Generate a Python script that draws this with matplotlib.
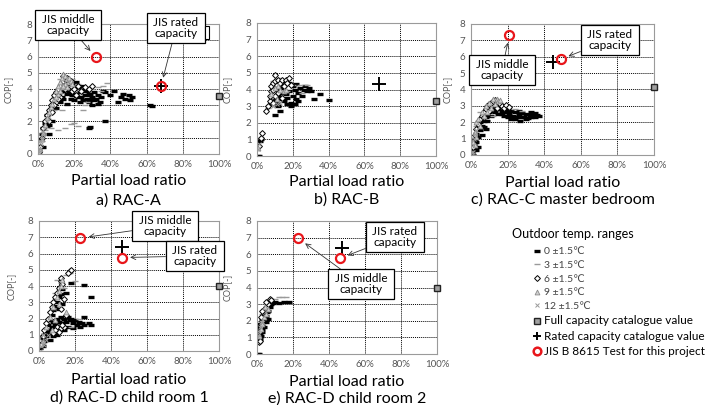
import matplotlib
matplotlib.use("Agg")
import matplotlib.pyplot as plt
from matplotlib.lines import Line2D
from matplotlib.patches import Rectangle

plt.rcParams['font.family'] = ['Lato', 'DejaVu Sans']

# ---- measured data (partial load ratio in %, COP) ----
# RAC-A
a_t0 = [(0.5, 0.2), (1, 0.5), (1.5, 0.9), (2, 1.2), (3, 1.6), (4, 1.9), (5, 1.7), (6, 1.8), (5, 2.4), (7, 2.6),
        (8, 2.9), (9, 3.1), (10, 3.3), (11, 3.6), (12, 3.8), (13, 3.5), (14, 3.9), (15, 4.1), (16, 3.7), (17, 4.2),
        (18, 3.9), (19, 4.3), (20, 4.0), (21, 3.7), (22, 4.1), (23, 3.8), (24, 3.5), (25, 3.9), (26, 3.6), (27, 3.4),
        (28, 3.7), (29, 3.3), (30, 3.5), (31, 3.8), (32, 3.4), (33, 3.6), (34, 3.2), (35, 3.5), (18, 3.4), (20, 3.3),
        (22, 3.5), (24, 4.2), (26, 4.0), (28, 3.2), (16, 3.1), (19, 3.6), (21, 4.4), (23, 3.2), (30, 3.0), (33, 3.1),
        (36, 3.9), (37, 3.8), (40, 3.6), (42, 3.9), (44, 3.2), (46, 3.5), (47, 3.7), (48, 3.4), (50, 3.6), (52, 3.5),
        (51, 3.3), (62, 3.0), (63, 2.95), (28, 1.6), (29, 1.65), (37, 2.05), (3, 0.4), (6, 1.2), (8, 2.0),
        (17, 3.8), (20, 3.6), (25, 3.3), (27, 3.9), (29, 3.6), (31, 3.3), (14, 3.4), (12, 3.2), (10, 2.8)]
a_t3 = [(2, 0.8), (4, 1.5), (9, 2.7), (13, 2.7), (15, 1.6), (18, 1.85), (20, 1.9), (22, 1.7), (25, 2.7), (17, 4.5),
        (19, 4.6), (22, 4.3), (30, 4.0), (33, 4.1), (36, 4.2), (38, 4.35), (35, 3.9), (27, 3.2), (12, 4.6), (14, 4.4),
        (11, 1.5), (7, 1.6), (26, 3.0)]
a_t6 = [(1, 0.4), (2, 1.0), (3, 1.6), (4, 2.0), (5, 2.4), (6, 2.7), (7, 3.0), (8, 3.3), (9, 3.6), (10, 3.8),
        (11, 4.0), (12, 4.2), (13, 4.4), (14, 4.5), (15, 4.6), (16, 4.3), (17, 4.1), (18, 4.2), (19, 3.9), (20, 4.0),
        (22, 4.2), (24, 3.9), (26, 4.1), (28, 4.0), (30, 4.2), (15, 4.0), (12, 3.5), (10, 3.2), (8, 2.6), (6, 2.0),
        (14, 4.8), (21, 3.6), (0.5, 0.1), (16, 4.7), (18, 4.5), (9, 3.0), (11, 3.4)]
a_t9 = [(1, 0.3), (2, 0.9), (3, 1.3), (5, 2.2), (7, 2.9), (9, 3.4), (10, 3.9), (11, 4.2), (12, 4.4), (13, 4.7),
        (14, 4.9), (15, 4.8), (16, 4.6), (17, 4.4), (13, 4.1), (15, 4.3), (17, 4.7), (18, 4.5), (11, 3.7), (8, 3.1),
        (4, 1.8), (6, 2.6), (12, 3.9), (14, 4.2), (16, 4.1), (10, 3.5), (19, 4.3)]
a_t12 = [(0.5, 0.1), (1, 0.3), (1.5, 0.6), (2, 0.9), (3, 1.2), (4, 1.6), (5, 2.0), (6, 2.3), (1, 0.8), (2, 1.4),
         (0.3, 0.0)]

# RAC-B
b_t0 = [(0.5, 0.0), (1.2, 0.0), (1.5, 0.9), (2, 1.0), (8, 3.1), (9, 3.3), (10, 3.5), (11, 3.2), (12, 3.6), (13, 3.4),
        (14, 3.8), (15, 3.3), (16, 3.7), (17, 3.5), (18, 3.9), (19, 3.2), (20, 3.6), (21, 4.0), (22, 3.4), (23, 3.8),
        (24, 4.1), (25, 3.6), (26, 4.0), (27, 4.2), (28, 3.9), (29, 4.1), (30, 3.9), (32, 3.45), (35, 3.7), (40, 3.35),
        (10, 2.45), (13, 2.7), (15, 4.3), (18, 4.4), (20, 4.2), (22, 4.35), (12, 3.0), (17, 3.1), (19, 3.0), (21, 3.1),
        (23, 3.3), (14, 4.1), (16, 4.5), (11, 4.0)]
b_t3 = [(9, 4.5), (11, 4.6), (13, 4.7), (6, 2.9), (8, 3.5), (20, 4.3), (24, 4.3), (17, 3.9), (25, 3.8), (28, 4.3)]
b_t6 = [(1, 0.6), (2, 1.1), (3, 1.4), (5, 2.7), (6, 3.0), (7, 3.3), (7, 3.6), (8, 3.9), (8, 4.2), (9, 4.0),
        (9, 4.4), (10, 4.9), (10, 4.5), (11, 4.3), (12, 4.6), (13, 4.4), (14, 4.6), (15, 4.2), (16, 4.55), (17, 4.4),
        (18, 4.7), (19, 4.3), (12, 3.8), (10, 3.6), (14, 3.5), (9, 3.2)]
b_t9 = [(8, 3.7), (10, 4.1), (12, 4.2), (13, 4.0), (15, 3.9), (11, 3.4), (16, 4.0), (0.5, 0.5)]
b_t12 = [(0.5, 0.4), (1, 0.7), (9, 3.0), (11, 3.1), (13, 3.2)]

# RAC-C master bedroom
c_t0 = [(0.5, 0.1), (1, 0.3), (1.5, 0.6), (2, 0.5), (2, 1.0), (3, 0.8), (3, 1.3), (4, 1.1), (4, 1.6), (5, 1.5),
        (5, 2.0), (6, 1.8), (7, 2.1), (8, 2.3), (9, 2.5), (10, 2.6), (11, 2.8), (12, 2.7), (13, 2.9), (14, 3.0),
        (15, 2.8), (16, 3.0), (17, 2.7), (18, 2.9), (19, 2.6), (20, 2.8), (21, 2.5), (22, 2.7), (23, 2.4), (24, 2.6),
        (25, 2.3), (26, 2.5), (27, 2.35), (28, 2.55), (29, 2.3), (30, 2.5), (31, 2.25), (32, 2.45), (33, 2.3),
        (34, 2.5), (35, 2.35), (36, 2.45), (37, 2.4), (20, 2.3), (22, 2.2), (24, 2.2), (27, 2.1), (2, 0.8), (6, 1.2),
        (4, 0.5), (1, 0.0), (3, 0.3), (8, 1.6), (18, 2.4), (30, 2.2), (7, 1.7), (9, 2.1), (11, 2.4), (13, 2.6),
        (15, 2.5), (17, 2.5), (26, 2.7), (33, 2.6), (35, 2.55)]
c_t3 = [(5, 2.6), (8, 2.9), (16, 3.2), (20, 3.0), (24, 2.8), (28, 2.7), (12, 2.4), (3, 1.8)]
c_t6 = [(1, 0.5), (2, 1.2), (3, 1.6), (4, 1.9), (5, 2.2), (6, 2.4), (7, 2.6), (8, 2.8), (9, 3.0), (10, 3.1),
        (11, 3.2), (12, 3.3), (13, 3.35), (14, 3.3), (15, 3.2), (16, 3.1), (17, 3.0), (18, 2.9), (14, 2.9), (10, 2.7),
        (7, 2.3), (19, 3.05), (21, 2.95)]
c_t9 = [(1, 0.8), (2, 1.4), (3, 2.0), (4, 2.2), (6, 2.6), (8, 3.0), (10, 3.2), (12, 3.4), (14, 3.45), (13, 3.1),
        (11, 2.9), (9, 2.6), (15, 3.3), (16, 3.35), (2, 0.6), (3, 1.1), (5, 1.8), (7, 2.4)]
c_t12 = [(0.5, 0.2), (1, 0.6), (1.5, 1.0), (2, 1.3), (3, 1.5), (0.5, 0.0), (1, 0.2)]

# RAC-D child room 1
d_t0 = [(0.5, 0.2), (1, 0.5), (2, 0.8), (2, 0.3), (3, 1.0), (3, 0.6), (4, 1.3), (4, 0.9), (5, 1.6), (5, 1.1),
        (6, 1.9), (6, 1.3), (7, 2.2), (7, 1.5), (8, 2.5), (8, 1.8), (9, 2.8), (9, 1.6), (10, 3.0), (10, 2.0),
        (11, 3.3), (11, 1.8), (12, 3.5), (12, 2.1), (13, 3.8), (13, 1.7), (14, 2.0), (15, 1.8), (16, 2.1), (17, 1.9),
        (18, 2.0), (19, 1.7), (20, 1.9), (21, 1.6), (22, 1.8), (23, 1.5), (24, 1.7), (25, 2.1), (25, 1.6), (28, 1.7),
        (29, 1.6), (25, 4.05), (29, 3.3), (18, 4.2), (15, 3.6), (14, 1.3), (16, 1.5), (19, 1.4), (6, 0.7), (9, 1.2),
        (11, 2.6), (13, 2.9), (10, 1.0), (8, 0.9)]
d_t3 = [(10, 4.4), (12, 4.2), (15, 4.7), (17, 4.8), (14, 3.9), (20, 4.3), (9, 3.6), (22, 2.0), (18, 1.5), (6, 2.4)]
d_t6 = [(1, 0.4), (2, 0.9), (3, 1.3), (4, 1.7), (5, 2.0), (6, 2.4), (7, 2.7), (8, 3.0), (9, 3.3), (10, 3.6),
        (11, 3.9), (12, 4.3), (12, 4.5), (13, 4.1), (17, 4.9), (18, 5.0), (16, 4.8), (10, 1.5), (12, 1.4), (14, 1.5),
        (11, 1.2), (9, 1.3), (13, 1.6), (15, 2.2), (8, 1.1), (12, 2.6), (14, 3.2)]
d_t9 = [(2, 0.6), (4, 1.5), (6, 2.1), (8, 2.7), (10, 3.3), (11, 3.7), (12, 4.0), (13, 4.4), (7, 1.3), (9, 1.9),
        (15, 2.4), (11, 2.9)]
d_t12 = [(0.5, 0.0), (1, 0.3), (1.5, 0.6), (2, 1.0), (3, 0.4), (4, 0.7), (5, 1.0)]

# RAC-D child room 2
e_t0 = [(0.5, 0.0), (1, 0.0), (0.5, 1.1), (1, 1.3), (1, 1.6), (1.5, 1.2), (2, 1.4), (2, 1.8), (2.5, 1.5), (3, 1.7),
        (3, 2.1), (3.5, 1.9), (4, 2.0), (4, 2.4), (4.5, 2.2), (5, 2.3), (5, 2.6), (5.5, 2.5), (6, 2.6), (6, 2.9),
        (7, 2.8), (7, 3.0), (8, 3.0), (9, 3.05), (10, 3.1), (12, 3.05), (15, 3.1), (18, 3.1), (2, 1.1), (3, 1.3),
        (4, 1.6), (5, 1.9), (6, 2.1), (1.5, 0.9), (0.5, 1.5), (0.5, 1.8)]
e_t3 = [(8, 3.3), (10, 3.3), (12, 3.4), (14, 3.45), (16, 3.4), (6, 3.2), (3, 2.4)]
e_t6 = [(1, 0.7), (1, 1.0), (1.5, 1.4), (2, 1.7), (3, 2.0), (4, 2.6), (5, 2.8), (6, 3.0), (7, 3.3), (8, 3.25),
        (3, 2.6), (2, 2.2), (5, 3.1), (1.5, 0.8)]
e_t9 = [(1, 1.1), (2, 1.5), (3, 1.9), (4, 2.2), (5, 2.4), (6, 2.7), (2.5, 1.8), (4.5, 2.8)]
e_t12 = [(0.5, 1.0), (1, 1.2), (1.5, 1.6), (0.5, 1.4), (2, 1.9)]

# catalogue / test values per unit (a..e)
full_cap_cop = [3.55, 3.3, 4.15, 4.0, 4.0]          # at 100 %
rated_plr = [68, 68, 45, 46, 47]
rated_cop = [4.2, 4.35, 5.7, 6.4, 6.4]
jis_mid = [(32, 5.95), None, (21, 7.35), (23, 6.95), (23, 6.95)]
jis_rated = [(68, 4.2), None, (49, 5.85), (46, 5.75), (46, 5.75)]

titles = ["a) RAC-A", "b) RAC-B", "c) RAC-C master bedroom",
          "d) RAC-D child room 1", "e) RAC-D child room 2"]
series_sets = [
    [a_t0, a_t3, a_t6, a_t9, a_t12],
    [b_t0, b_t3, b_t6, b_t9, b_t12],
    [c_t0, c_t3, c_t6, c_t9, c_t12],
    [d_t0, d_t3, d_t6, d_t9, d_t12],
    [e_t0, e_t3, e_t6, e_t9, e_t12],
]
legend_labels = ["0 \u00b11.5\u2103", "3 \u00b11.5\u2103", "6 \u00b11.5\u2103", "9 \u00b11.5\u2103",
                 "12 \u00b11.5\u2103", "Full capacity catalogue value",
                 "Rated capacity catalogue value", "JIS B 8615 Test for this project"]

# ---- styles / layout ----
W, H = 705, 405
styles = [
    dict(marker='_', color='black', ms=4.5, mew=2.4),
    dict(marker='_', color='#9a9a9a', ms=4, mew=1.0),
    dict(marker='D', mfc='white', mec='black', ms=3, mew=0.7),
    dict(marker='^', mfc='#d0d0d0', mec='#8a8a8a', ms=3.5, mew=0.6),
    dict(marker='x', color='#9a9a9a', ms=3.5, mew=0.7),
]
sq_style = dict(marker='s', mfc='#a0a0a0', mec='#222222', ms=4.5, mew=1.0)
plus_style = dict(marker='+', color='black', ms=10, mew=1.4)
circ_style = dict(marker='o', mfc='none', mec='#e8161b', ms=6.5, mew=1.6)

# axes boxes in pixels (left, top, right, bottom)
boxes = [(38, 24, 219, 154), (257, 23, 436, 156), (471, 24, 654, 155),
         (39, 221, 219, 351), (257, 221, 437, 354)]
ylab_x = [-0.14, -0.14, -0.105, -0.13, -0.14]
label_y = [(181, 201), (182, 200), (183, 200), (380, 398), (382, 399)]

# annotation boxes: (text, centre px x, centre px y, which test point)
notes = [
    [(" JIS middle \ncapacity", 68, 25, 'mid'), (" JIS rated \ncapacity", 176, 28, 'rated')],
    [],
    [(" JIS middle \ncapacity", 502, 70, 'mid'), (" JIS rated \ncapacity", 610, 40, 'rated')],
    [(" JIS middle \ncapacity", 165, 226, 'mid'), (" JIS rated \ncapacity", 195, 256, 'rated')],
    [(" JIS rated \ncapacity", 395, 237, 'rated'), (" JIS middle \ncapacity", 361, 284, 'mid')],
]

fig = plt.figure(figsize=(W / 100, H / 100), dpi=100)

for i, (l, t, r, b) in enumerate(boxes):
    ax = fig.add_axes([l / W, 1 - b / H, (r - l) / W, (b - t) / H])
    for pts, st in zip(series_sets[i], styles):
        xs, ys = zip(*pts)
        ax.plot(xs, ys, linestyle='none', **st)
    ax.plot([100], [full_cap_cop[i]], linestyle='none', clip_on=False, zorder=4, **sq_style)
    ax.plot([rated_plr[i]], [rated_cop[i]], linestyle='none', zorder=4, **plus_style)
    for p in (jis_mid[i], jis_rated[i]):
        if p is not None:
            ax.plot([p[0]], [p[1]], linestyle='none', zorder=5, **circ_style)

    ax.set_xlim(0, 100)
    ax.set_ylim(0, 8)
    ax.set_xticks(range(0, 101, 20))
    ax.set_xticklabels([f"{v}%" for v in range(0, 101, 20)])
    ax.set_yticks(range(0, 9))
    ax.grid(True, color='black', linestyle=(0, (1, 1)), linewidth=0.7)
    ax.set_axisbelow(True)
    ax.tick_params(length=0, labelsize=7, labelcolor='#555555', pad=4)
    for sp in ax.spines.values():
        sp.set_color('#9a9a9a')
        sp.set_linewidth(0.8)
    ax.set_ylabel("COP[-]", fontsize=6.5, color='#555555')
    ax.yaxis.set_label_coords(ylab_x[i], 0.5)

    cx = (l + r) / 2
    fig.text(cx / W, 1 - label_y[i][0] / H, "Partial load ratio", ha='center', va='center', fontsize=11.5)
    fig.text(cx / W, 1 - label_y[i][1] / H, titles[i], ha='center', va='center', fontsize=11.5)

    for txt, tx, ty, kind in notes[i]:
        target = jis_mid[i] if kind == 'mid' else jis_rated[i]
        ax.annotate(txt, xy=target, xycoords='data', xytext=(tx, H - ty), textcoords='figure pixels',
                    ha='center', va='center', fontsize=8.5, linespacing=1.0, zorder=6,
                    bbox=dict(boxstyle='square,pad=0.3', fc='white', ec='black', lw=0.9),
                    arrowprops=dict(arrowstyle='->', lw=0.6, color='#333333', shrinkA=0, shrinkB=6),
                    annotation_clip=False)

# small leftover box next to the rated-capacity note in a)
fig.patches.append(Rectangle((205 / W, 1 - 39 / H), 4 / W, 13 / H, transform=fig.transFigure,
                             fc='white', ec='black', lw=0.8, zorder=5))

# legend
handles = [Line2D([], [], linestyle='none', **st) for st in styles]
handles += [Line2D([], [], linestyle='none', **sq_style),
            Line2D([], [], linestyle='none', marker='+', color='black', ms=6, mew=1.4),
            Line2D([], [], linestyle='none', marker='o', mfc='none', mec='#e8161b', ms=5.5, mew=1.8)]
fig.text(512 / W, 1 - 234 / H, "Outdoor temp. ranges", ha='left', va='center', fontsize=9)
leg = fig.legend(handles, legend_labels, loc='upper left', bbox_to_anchor=(533 / W, 1 - 247 / H),
                 frameon=False, fontsize=7.5, handlelength=0.8, handletextpad=0.3, labelspacing=0.42,
                 borderpad=0, borderaxespad=0)
for k, txt in enumerate(leg.get_texts()):
    if k < 5:
        txt.set_color('#444444')
    else:
        txt.set_fontsize(8.5)

fig.savefig("out.png", dpi=100)
